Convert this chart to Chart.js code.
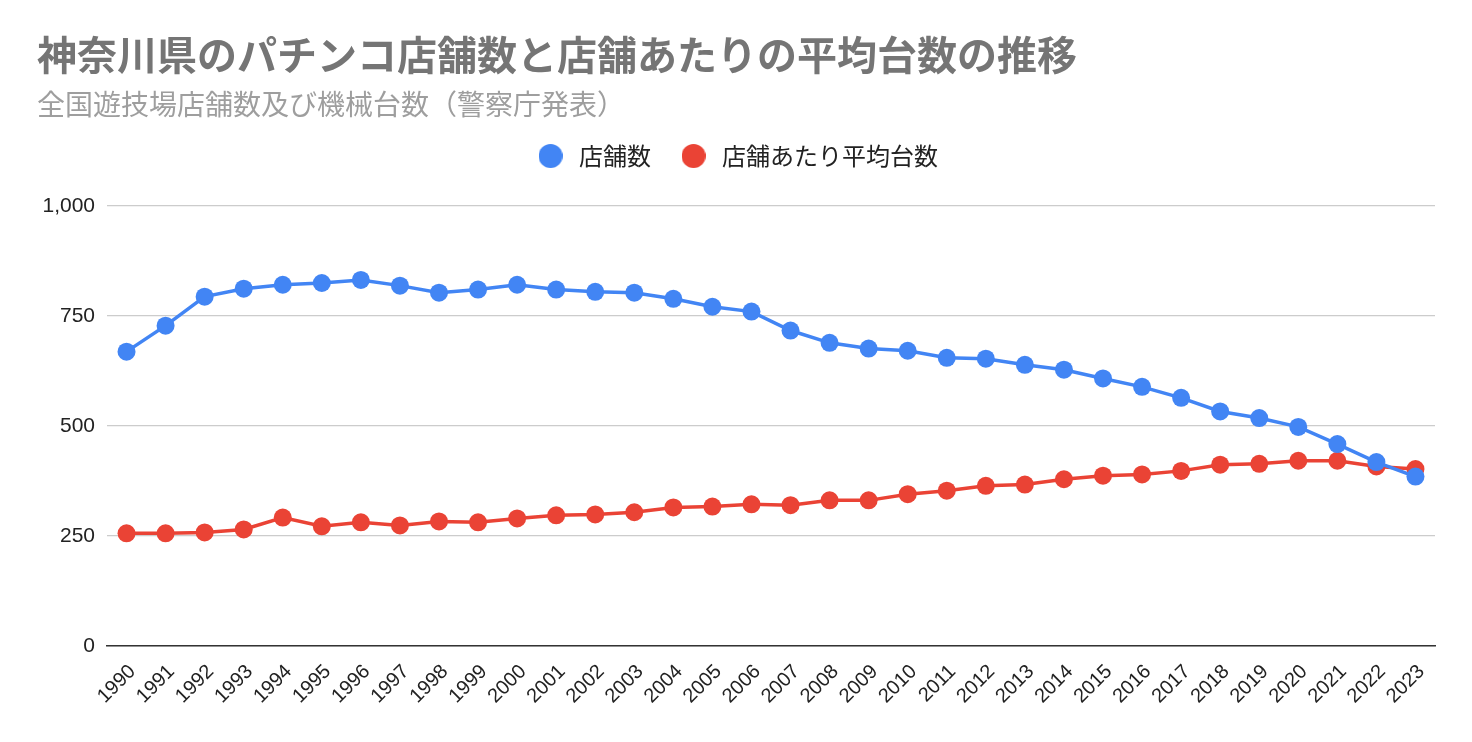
<!DOCTYPE html>
<html>
<head>
<meta charset="utf-8">
<script src="https://cdn.jsdelivr.net/npm/chart.js@4"></script>
<style>
  html, body { margin: 0; padding: 0; background: #fff; }
  #wrap { width: 1472px; height: 742px; }
</style>
</head>
<body>
<div id="wrap"><canvas id="pachinkoChart" width="1472" height="742"></canvas></div>
<script>
// Data
const years = ['1990','1991','1992','1993','1994','1995','1996','1997','1998','1999',
  '2000','2001','2002','2003','2004','2005','2006','2007','2008','2009',
  '2010','2011','2012','2013','2014','2015','2016','2017','2018','2019',
  '2020','2021','2022','2023'];
const storeCounts = [669, 728, 794, 812, 821, 825, 832, 819, 803, 810,
  821, 810, 805, 803, 789, 771, 760, 717, 689, 676,
  671, 655, 653, 639, 628, 608, 589, 564, 533, 518,
  498, 459, 418, 385];
const avgMachines = [256, 256, 258, 265, 292, 272, 281, 274, 283, 281,
  290, 297, 299, 304, 315, 317, 322, 320, 331, 331,
  345, 353, 364, 367, 379, 387, 390, 398, 412, 414,
  421, 421, 408, 402];
const yTicks = [0, 250, 500, 750, 1000];

const latinFont = 'Arial, "Liberation Sans", "Noto Sans CJK JP", sans-serif';
const jpFont = '"Noto Sans CJK JP", Arial, sans-serif';

// small round marker for the legend, so the gap to the text can be wider
function legendDot(color) {
  const c = document.createElement('canvas');
  c.width = 24;
  c.height = 24;
  const g = c.getContext('2d');
  g.fillStyle = color;
  g.beginPath();
  g.arc(12, 12, 12, 0, Math.PI * 2);
  g.fill();
  return c;
}

const ctx = document.getElementById('pachinkoChart').getContext('2d');
const pachinkoChart = new Chart(ctx, {
  type: 'line',
  data: {
    labels: years,
    datasets: [{
      label: '店舗数',
      data: storeCounts,
      borderColor: '#4285F4',
      backgroundColor: '#4285F4',
      borderWidth: 3.5,
      pointRadius: 9,
      pointHoverRadius: 9,
      pointBorderWidth: 0,
      tension: 0
    }, {
      label: '店舗あたり平均台数',
      data: avgMachines,
      borderColor: '#EA4335',
      backgroundColor: '#EA4335',
      borderWidth: 3.5,
      pointRadius: 9,
      pointHoverRadius: 9,
      pointBorderWidth: 0,
      tension: 0
    }]
  },
  options: {
    responsive: false,
    animation: false,
    layout: { padding: { left: 37, right: 37, top: 0, bottom: 0 } },
    plugins: {
      title: {
        display: true,
        text: '神奈川県のパチンコ店舗数と店舗あたりの平均台数の推移',
        align: 'start',
        color: '#757575',
        font: { family: jpFont, size: 40, weight: 'bold', lineHeight: 1.2 },
        padding: { top: 31, bottom: 11 }
      },
      subtitle: {
        display: true,
        text: '全国遊技場店舗数及び機械台数（警察庁発表）',
        align: 'start',
        color: '#9e9e9e',
        font: { family: jpFont, size: 28, lineHeight: 1.0 },
        padding: { top: 0, bottom: 0 }
      },
      legend: {
        position: 'top',
        align: 'center',
        labels: {
          usePointStyle: true,
          pointStyleWidth: 33,
          boxHeight: 17,
          padding: 26,
          color: '#222',
          font: { family: jpFont, size: 24 },
          generateLabels: function(chart) {
            const items = Chart.defaults.plugins.legend.labels.generateLabels(chart);
            items.forEach(item => {
              item.pointStyle = legendDot(chart.data.datasets[item.datasetIndex].borderColor);
            });
            return items;
          }
        }
      },
      tooltip: { enabled: false }
    },
    scales: {
      x: {
        offset: true,
        grid: { display: false, drawTicks: false },
        border: { display: true, color: '#333', width: 1.5 },
        ticks: {
          color: '#222',
          font: { family: latinFont, size: 20 },
          maxRotation: 45,
          minRotation: 45,
          autoSkip: false,
          padding: 14,
          labelOffset: 6
        },
        afterFit: function(scale) { scale.height = 96; }
      },
      // empty top axis, only used as a spacer under the legend
      spacer: {
        type: 'category',
        position: 'top',
        labels: years,
        grid: { display: false, drawTicks: false },
        border: { display: false },
        ticks: { display: false },
        afterFit: function(scale) { scale.height = 28; }
      },
      y: {
        min: 0,
        max: 1000,
        afterBuildTicks: function(scale) {
          scale.ticks = yTicks.map(v => ({ value: v }));
        },
        grid: { color: '#cccccc', lineWidth: 1.2, drawTicks: false },
        border: { display: false },
        ticks: {
          color: '#222',
          padding: 12,
          font: { family: latinFont, size: 21 },
          callback: v => v.toLocaleString('en-US')
        },
        afterFit: function(scale) { scale.width = 70; }
      }
    }
  }
});
</script>
</body>
</html>
